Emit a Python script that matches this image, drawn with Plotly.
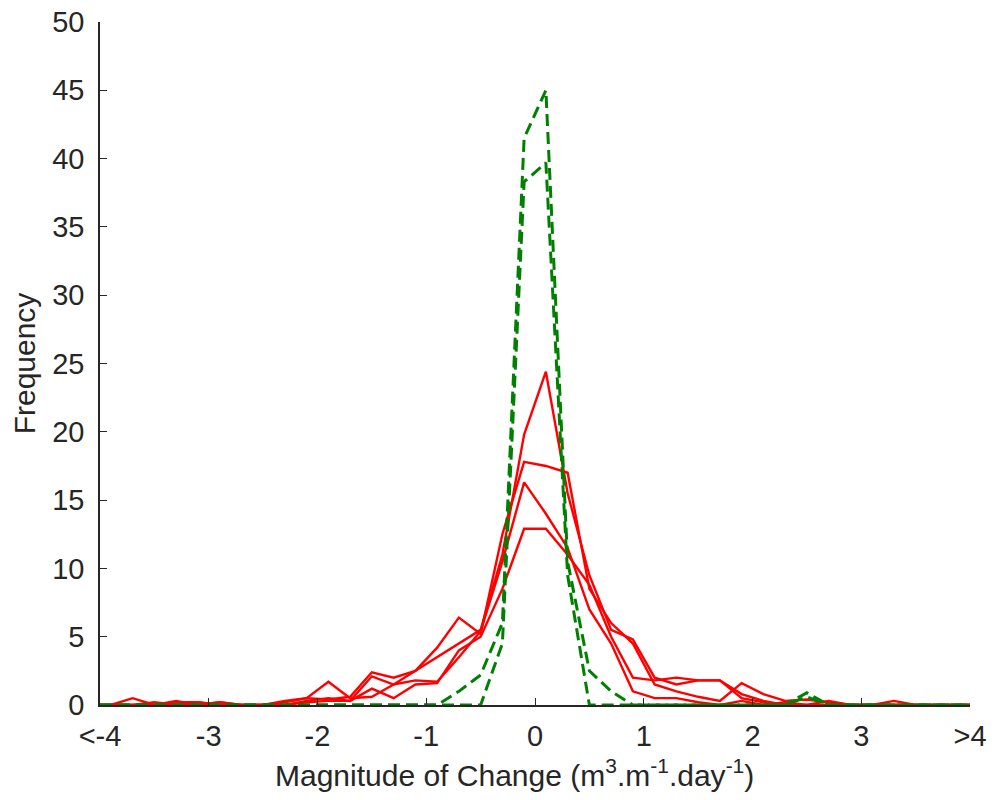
import plotly.graph_objects as go

# bin centres (overflow bins at -4 and 4)
x_bins = [-4.0, -3.9, -3.7, -3.5, -3.3, -3.1, -2.9, -2.7, -2.5, -2.3, -2.1,
          -1.9, -1.7, -1.5, -1.3, -1.1, -0.9, -0.7, -0.5, -0.3, -0.1,
          0.1, 0.3, 0.5, 0.7, 0.9, 1.1, 1.3, 1.5, 1.7, 1.9,
          2.1, 2.3, 2.5, 2.7, 2.9, 3.1, 3.3, 3.5, 3.7, 3.9, 4.0]

red_1 = [0, 0, 0.5, 0, 0.2, 0.2, 0, 0, 0, 0.2, 0.5,
         1.7, 0.5, 0.6, 1.5, 2.5, 3.5, 4.5, 5.5, 11.0, 19.8,
         24.4, 15.5, 9.5, 5.5, 4.8, 2.0, 1.5, 1.8, 1.8, 0.8,
         0.3, 0, 0, 0, 0, 0, 0, 0, 0, 0, 0]
red_2 = [0, 0, 0, 0, 0.3, 0, 0.2, 0, 0, 0.3, 0.5,
         0.4, 0.6, 2.4, 2.0, 2.5, 4.2, 6.4, 5.2, 12.5, 17.8,
         17.5, 17.0, 8.5, 6.0, 4.5, 1.5, 1.0, 0.6, 0.3, 1.6,
         0.8, 0.3, 0.4, 0.2, 0, 0, 0.3, 0, 0, 0, 0]
red_3 = [0, 0, 0, 0.2, 0, 0.2, 0, 0, 0, 0, 0.2,
         0.3, 0.3, 2.1, 1.5, 1.8, 1.7, 3.5, 5.4, 10.5, 16.3,
         14.0, 11.5, 7.0, 4.5, 1.0, 0.5, 0.5, 0.2, 0, 0.3,
         0, 0.2, 0, 0, 0, 0, 0, 0, 0, 0, 0]
red_4 = [0, 0, 0, 0, 0, 0, 0.2, 0, 0, 0, 0.3,
         0.5, 0.3, 1.2, 0.5, 1.5, 1.6, 4.0, 5.0, 8.5, 12.9,
         12.9, 11.0, 8.8, 5.0, 2.0, 1.8, 2.0, 1.8, 1.8, 0.5,
         0.2, 0, 0, 0.3, 0, 0, 0, 0, 0, 0, 0]

green_1 = [0, 0, 0, 0, 0, 0, 0, 0, 0, 0, 0,
           0, 0, 0, 0, 0, 0, 1.0, 2.2, 6.0, 41.5,
           45.0, 10.5, 2.5, 1.0, 0, 0, 0, 0, 0, 0,
           0, 0, 0.6, 0, 0, 0, 0, 0, 0, 0, 0]
green_2 = [0, 0, 0, 0, 0, 0, 0, 0, 0, 0, 0,
           0, 0, 0, 0, 0, 0, 0, 0, 4.5, 38.3,
           39.7, 9.5, 0, 0, 0, 0, 0, 0, 0, 0,
           0, 0, 0.9, 0, 0, 0, 0, 0, 0, 0, 0]

x_tick_vals = [-4, -3, -2, -1, 0, 1, 2, 3, 4]
x_tick_text = ["<-4", "-3", "-2", "-1", "0", "1", "2", "3", ">4"]
y_tick_vals = [0, 5, 10, 15, 20, 25, 30, 35, 40, 45, 50]

fig = go.Figure()
for ys in [red_1, red_2, red_3, red_4]:
    fig.add_trace(go.Scatter(x=x_bins, y=ys, mode="lines",
                             line=dict(color="#ff0000", width=2.4),
                             showlegend=False, hoverinfo="skip"))
for ys in [green_1, green_2]:
    fig.add_trace(go.Scatter(x=x_bins, y=ys, mode="lines",
                             line=dict(color="#008000", width=3, dash="12px,6px"),
                             showlegend=False, hoverinfo="skip"))

tick_font = dict(family="Liberation Sans, Arial, sans-serif", size=29, color="#262626")
title_font = dict(family="Liberation Sans, Arial, sans-serif", size=30, color="#262626")
fig.update_layout(
    width=994, height=800,
    margin=dict(l=100, r=24, t=22, b=95),
    plot_bgcolor="white", paper_bgcolor="white",
    font=tick_font,
    xaxis=dict(range=[-4, 4], tickmode="array", tickvals=x_tick_vals, ticktext=x_tick_text,
               ticks="inside", ticklen=7, tickcolor="#262626", tickwidth=1,
               showline=True, linecolor="#262626", linewidth=1.5,
               showgrid=False, zeroline=False, ticklabelstandoff=4,
               automargin=False, tickfont=tick_font),
    yaxis=dict(range=[0, 50], tickmode="array", tickvals=y_tick_vals,
               ticks="inside", ticklen=7, tickcolor="#262626", tickwidth=1,
               showline=True, linecolor="#262626", linewidth=1.5,
               showgrid=False, zeroline=False, ticklabelstandoff=8,
               automargin=False, tickfont=tick_font,
               title=dict(text="Frequency", font=title_font, standoff=8)),
    annotations=[dict(
        text="Magnitude of Change (m<sup>3</sup>.m<sup>-1</sup>.day<sup>-1</sup>)",
        xref="paper", yref="paper", x=0.477, y=-0.1, xanchor="center", yanchor="middle",
        showarrow=False, font=title_font)],
)
fig.write_html("out.html")
